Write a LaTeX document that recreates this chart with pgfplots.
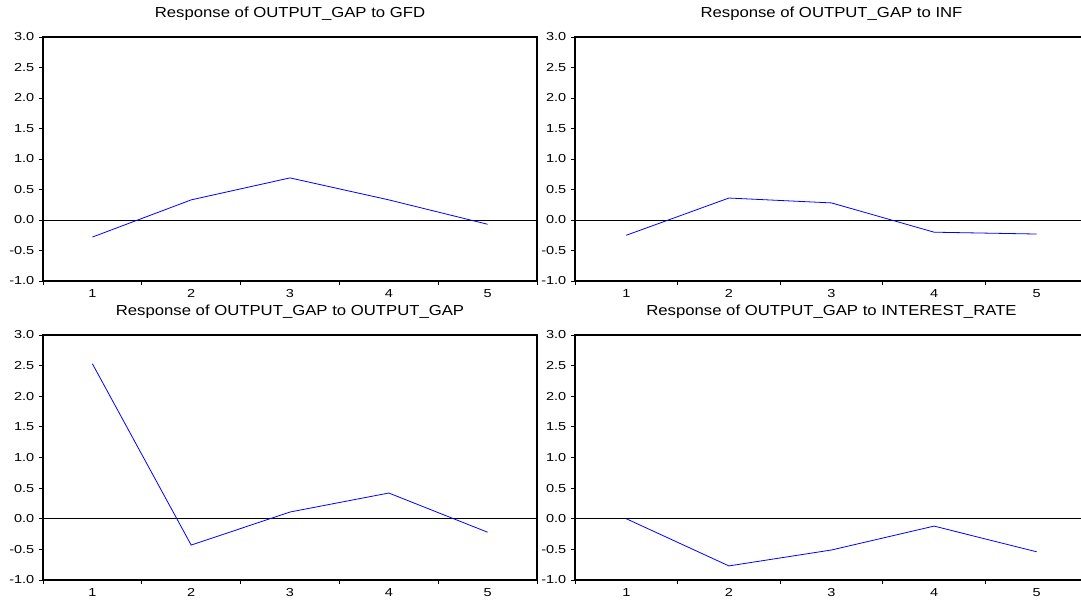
\documentclass[border=0pt]{standalone}
\usepackage{pgfplots}
\pgfplotsset{compat=1.18}
\usepackage{fontspec}
\setmainfont{Liberation Sans}
\newfontfamily\tickfont[FakeStretch=1.25]{Liberation Sans}
\newfontfamily\titlefont[FakeStretch=1.15]{Liberation Sans}

\pgfplotsset{
  irf/.style={
    scale only axis,
    height=183pt,
    xmin=0.5, xmax=5.5, ymin=-1, ymax=3,
    xtick={0.5,1.5,2.5,3.5,4.5,5.5}, xticklabels={},
    extra x ticks={1,2,3,4,5},
    extra x tick labels={1,2,3,4,5},
    extra x tick style={major tick length=0pt},
    ytick={-1,-0.5,0,0.5,1,1.5,2,2.5,3},
    /pgf/number format/assume math mode=true,
    yticklabel style={/pgf/number format/.cd, fixed, fixed zerofill, precision=1, /tikz/.cd,
       font=\tickfont\fontsize{8.7}{9}\selectfont},
    xticklabel style={font=\tickfont\fontsize{8.7}{9}\selectfont, yshift=-3pt},
    tick align=outside, major tick length=3pt,
    xtick pos=bottom, ytick pos=left,
    axis line style={black, line width=1pt},
    every tick/.style={black, line width=0.6pt},
    title style={font=\titlefont\fontsize{10.9}{12}\selectfont, anchor=base, at={(0.5,1)}, yshift=8.5pt},
  },
  irfline/.style={color=blue, line width=0.6pt, mark=none},
  zeroline/.style={black, line width=0.6pt, mark=none},
}

\begin{document}
\begin{tikzpicture}
% top-left
\begin{axis}[irf, width=370.5pt, at={(32.25pt,-27.75pt)}, anchor=north west,
  title={Response of OUTPUT\_GAP to GFD}]
  \addplot[zeroline] coordinates {(0.5,0) (5.5,0)};
  \addplot[irfline] coordinates {(1,-0.28) (2,0.33) (3,0.69) (4,0.33) (5,-0.07)};
\end{axis}
% top-right
\begin{axis}[irf, width=384.75pt, at={(431.25pt,-27.75pt)}, anchor=north west,
  title={Response of OUTPUT\_GAP to INF}]
  \addplot[zeroline] coordinates {(0.5,0) (5.5,0)};
  \addplot[irfline] coordinates {(1,-0.25) (2,0.36) (3,0.28) (4,-0.20) (5,-0.23)};
\end{axis}
% bottom-left
\begin{axis}[irf, width=370.5pt, height=183.75pt, at={(32.25pt,-251.25pt)}, anchor=north west,
  title={Response of OUTPUT\_GAP to OUTPUT\_GAP}]
  \addplot[zeroline] coordinates {(0.5,0) (5.5,0)};
  \addplot[irfline] coordinates {(1,2.53) (2,-0.43) (3,0.11) (4,0.42) (5,-0.22)};
\end{axis}
% bottom-right
\begin{axis}[irf, width=384.75pt, height=183.75pt, at={(431.25pt,-251.25pt)}, anchor=north west,
  title={Response of OUTPUT\_GAP to INTEREST\_RATE}]
  \addplot[zeroline] coordinates {(0.5,0) (5.5,0)};
  \addplot[irfline] coordinates {(1,0.0) (2,-0.77) (3,-0.51) (4,-0.12) (5,-0.54)};
\end{axis}
\pgfresetboundingbox
\path[use as bounding box] (0pt,0pt) rectangle (810.75pt,-451.5pt);
\end{tikzpicture}
\end{document}
